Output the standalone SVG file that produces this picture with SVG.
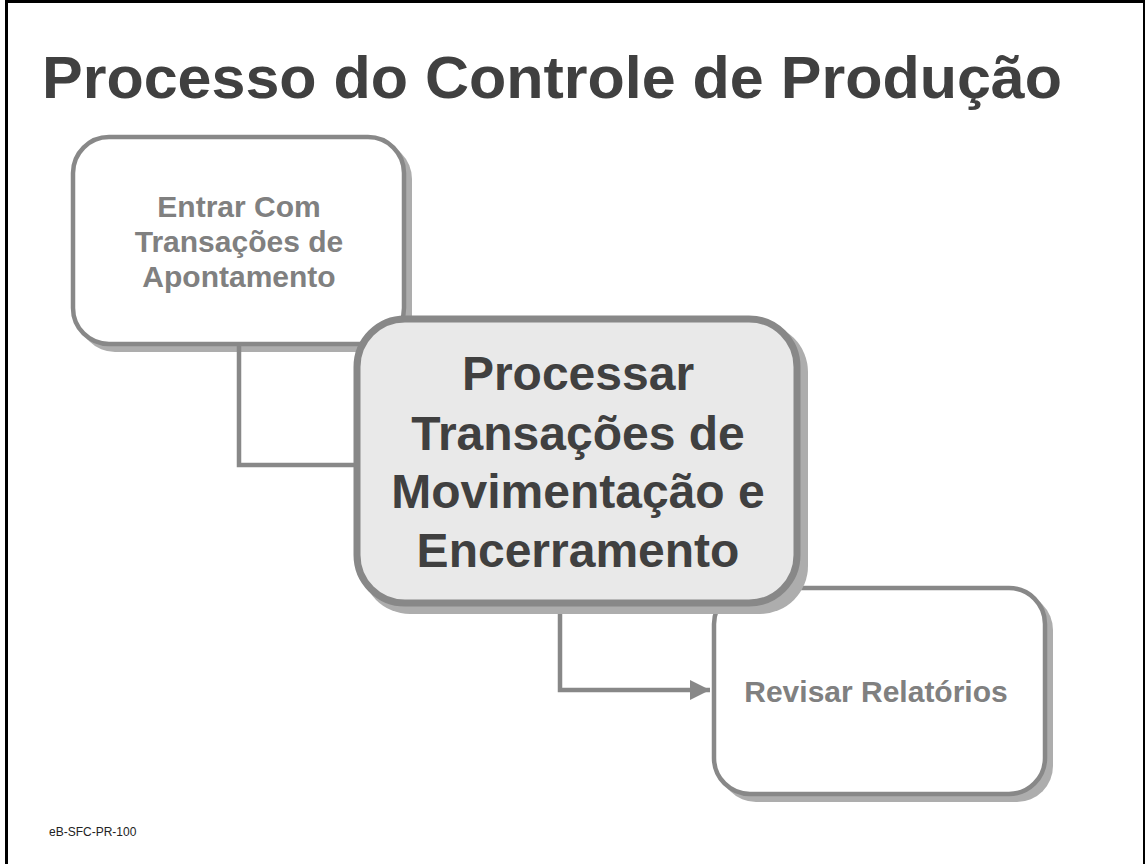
<svg xmlns="http://www.w3.org/2000/svg" width="1145" height="864" viewBox="0 0 1145 864">
<style>
.box{fill:#fff;stroke:#888;stroke-width:4.5}
.shadow{fill:#adadad}
.main{fill:#e9e9e9;stroke:#888;stroke-width:7}
.t{font-family:"Liberation Sans",Arial,sans-serif;font-weight:bold;text-anchor:middle}
.small{font-size:30px;fill:#808080}
.big{font-size:48px;fill:#404040}
.conn{fill:none;stroke:#888;stroke-width:4.5}
</style>
<defs>
<marker id="arr" markerUnits="userSpaceOnUse" markerWidth="22" markerHeight="22" refX="20" refY="10" orient="auto">
<path d="M0,0 L20,10 L0,20 Z" fill="#888"/>
</marker>
</defs>
<rect x="0" y="0" width="1145" height="864" fill="#fff"/>
<rect x="6.5" y="1.5" width="1138" height="900" fill="none" stroke="#000" stroke-width="3"/>
<text x="42" y="98" font-family="Liberation Sans,Arial,sans-serif" font-weight="bold" font-size="60" fill="#404040" textLength="1020" lengthAdjust="spacingAndGlyphs">Processo do Controle de Produção</text>
<g id="node-entrar">
<rect class="shadow" x="79" y="143" width="333" height="209" rx="36"/>
<rect class="box" x="73" y="137" width="331" height="207" rx="36"/>
<text class="t small" x="239"><tspan x="239" y="217">Entrar Com</tspan><tspan x="239" y="252">Transações de</tspan><tspan x="239" y="287">Apontamento</tspan></text>
</g>
<g id="node-revisar">
<rect class="shadow" x="720" y="594" width="333" height="208" rx="36"/>
<rect class="box" x="714" y="588" width="331" height="206" rx="36"/>
<text class="t small" x="876" y="702">Revisar Relatórios</text>
</g>
<g id="connectors">
<path class="conn" d="M239,346 L239,465 L357,465"/>
<path class="conn" d="M560,604 L560,690 L710,690" marker-end="url(#arr)"/>
</g>
<g id="node-processar">
<rect class="shadow" x="362" y="324" width="446" height="290" rx="48"/>
<rect class="main" x="357" y="319" width="440" height="284" rx="48"/>
<text class="t big"><tspan x="578" y="390">Processar</tspan><tspan x="578" y="450">Transações de</tspan><tspan x="578" y="508">Movimentação e</tspan><tspan x="578" y="567">Encerramento</tspan></text>
</g>
<text x="49" y="836" font-family="Liberation Sans,Arial,sans-serif" font-size="12" fill="#222">eB-SFC-PR-100</text>
</svg>
